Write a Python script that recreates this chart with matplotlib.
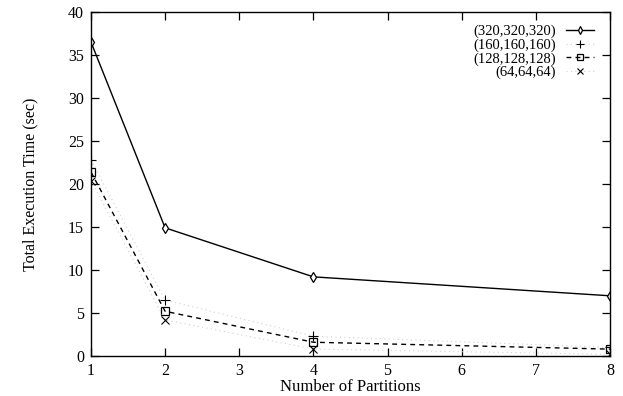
import matplotlib
matplotlib.use("Agg")
import matplotlib.pyplot as plt

plt.rcParams['font.family'] = ['Liberation Serif', 'DejaVu Serif']

partitions = [1, 2, 4, 8]
t320 = [36.5, 14.9, 9.2, 7.0]
t160 = [22.8, 6.5, 2.3, 1.0]
t128 = [21.4, 5.2, 1.6, 0.8]
t64 = [20.4, 4.2, 0.8, 0.2]
labels = ['(320,320,320)', '(160,160,160)', '(128,128,128)', '(64,64,64)']

fig = plt.figure(figsize=(6.23, 3.96), dpi=100)
ax = fig.add_axes([0.146, 0.101, 0.833, 0.869])

ax.plot(partitions, t320, color='black', lw=1.0, marker='d', ms=5,
        mfc='white', mec='black', mew=0.9, label=labels[0])
ax.plot(partitions, t160, color='#d0d0d0', lw=0.8, ls=(0, (1, 3)), marker='+', ms=7,
        mec='black', mew=0.8, label=labels[1])
ax.plot(partitions, t128, color='black', lw=1.0, ls=(0, (3.5, 3)), marker='s', ms=6,
        mfc='none', mec='black', mew=0.9, label=labels[2])
ax.plot(partitions, t64, color='#d0d0d0', lw=0.8, ls=(0, (1, 3)), marker='x', ms=5.5,
        mec='black', mew=0.8, label=labels[3])

ax.set_xlim(1, 8)
ax.set_ylim(0, 40)
ax.set_xticks(range(1, 9))
ax.set_yticks(range(0, 41, 5))
ax.tick_params(direction='in', top=True, right=True, length=6, width=0.9,
               labelsize=11.5, pad=5)
for s in ax.spines.values():
    s.set_linewidth(1.0)

ax.set_xlabel('Number of Partitions', fontsize=12, labelpad=0)
ax.set_ylabel('Total Execution Time (sec)', fontsize=11.5, labelpad=21)

leg = ax.legend(loc='upper right', bbox_to_anchor=(0.98, 0.98), frameon=False,
                markerfirst=False, fontsize=10.5, handlelength=1.9, handletextpad=0.7,
                labelspacing=0.02, borderaxespad=0, markerscale=0.8)

fig.savefig('out.png', dpi=100)
